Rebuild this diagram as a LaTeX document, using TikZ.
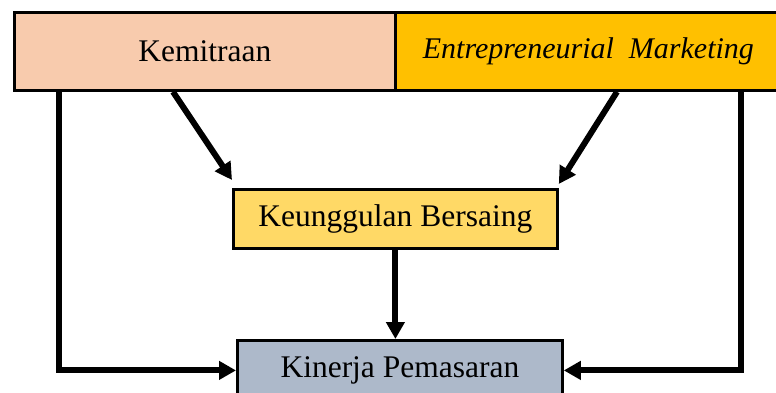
\documentclass[tikz,border=0pt]{standalone}
\usepackage{fontspec}
\setmainfont{Liberation Serif}
\usetikzlibrary{arrows.meta,calc}
\definecolor{kemc}{HTML}{F8CBAD}
\definecolor{entc}{HTML}{FFC000}
\definecolor{kunc}{HTML}{FFD966}
\definecolor{kinc}{HTML}{ADB9CA}
\begin{document}
\begin{tikzpicture}[x=1pt,y=-1pt,
  box/.style={draw=black, line width=2.8pt, inner sep=0pt, anchor=north west,
    font=\fontsize{31.5}{36}\selectfont},
  arr/.style={line width=6pt, -{Triangle[length=17pt,width=18pt]}}]
\useasboundingbox (0,0) rectangle (776,392);
\clip (0,0) rectangle (776,392);
\fill[white] (0,0) rectangle (776,392);
\node[box, fill=kemc, minimum width=381pt, minimum height=78pt] (kem) at (13,11) {Kemitraan};
\node[box, fill=entc, minimum width=386pt, minimum height=78pt,
  font=\fontsize{30}{36}\selectfont\itshape] (ent) at (394,11) {Entrepreneurial\ \ Marketing};
\node[box, fill=kunc, minimum width=324pt, minimum height=59pt] (kun) at (232,188) {Keunggulan Bersaing};
\node[box, fill=kinc, minimum width=325pt, minimum height=60pt] (kin) at (236,339) {Kinerja Pemasaran};
\draw[arr] ($(kem.south west)+(160,0)$) -- ($(kun.north west)+(0,-8)$);
\draw[arr] ($(ent.south west)+(223,0)$) -- ($(kun.north east)+(0,-4)$);
\draw[arr] (kun.south) -- (kun.south |- kin.north);
\draw[arr] ($(kem.south west)+(46,0)$) |- (kin.west);
\draw[arr] ($(ent.south west)+(347,0)$) |- (kin.east);
\end{tikzpicture}
\end{document}
